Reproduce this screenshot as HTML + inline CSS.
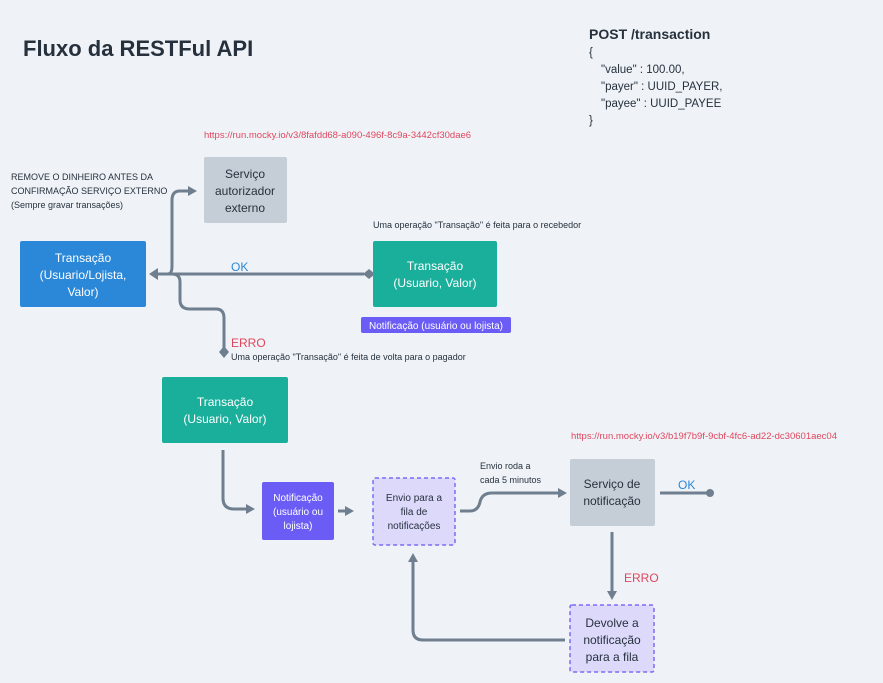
<!DOCTYPE html>
<html><head><meta charset="utf-8"><style>
html,body{margin:0;padding:0;background:#eff3f7;}
svg{display:block;font-family:"Liberation Sans",sans-serif;}
</style></head><body>
<svg width="883" height="683" viewBox="0 0 883 683" xmlns="http://www.w3.org/2000/svg">
<rect width="883" height="683" fill="#eff3f7"/>
<defs>
<marker id="ar" markerWidth="10" markerHeight="12" refX="6" refY="6" orient="auto" markerUnits="userSpaceOnUse"><path d="M0,1 L9,6 L0,11 z" fill="#6f7f8f"/></marker>
</defs>
<text x="23" y="56" font-size="22" font-weight="bold" fill="#26313d">Fluxo da RESTFul API</text>
<g fill="#26313d" font-size="11.5">
<text x="589" y="39" font-size="14" font-weight="bold">POST /transaction</text>
<text x="589" y="56">{</text>
<text x="601" y="73">"value" : 100.00,</text>
<text x="601" y="90">"payer" : UUID_PAYER,</text>
<text x="601" y="107">"payee" : UUID_PAYEE</text>
<text x="589" y="124">}</text>
</g>
<text x="204" y="138" font-size="9.5" fill="#e0465e">https://run.mocky.io/v3/8fafdd68-a090-496f-8c9a-3442cf30dae6</text>
<text x="571" y="439" font-size="9.5" fill="#e0465e">https://run.mocky.io/v3/b19f7b9f-9cbf-4fc6-ad22-dc30601aec04</text>
<g font-size="9" fill="#26313d">
<text x="11" y="180">REMOVE O DINHEIRO ANTES DA</text>
<text x="11" y="194">CONFIRMAÇÃO SERVIÇO EXTERNO</text>
<text x="11" y="208">(Sempre gravar transações)</text>
<text x="373" y="228">Uma operação "Transação" é feita para o recebedor</text>
<text x="231" y="360">Uma operação "Transação" é feita de volta para o pagador</text>
<text x="480" y="469">Envio roda a</text>
<text x="480" y="483">cada 5 minutos</text>
</g>
<g fill="none" stroke="#6f7f8f" stroke-width="3">
<path d="M155,274 L364,274"/>
<path d="M168,274 Q172,274 172,266 L172,200 Q172,191 180,191 L194,191" marker-end="url(#ar)"/>
<path d="M172,274 Q180,274 180,282 L180,300 Q180,309 190,309 L216,309 Q224,309 224,318 L224,350"/>
<path d="M223,450 L223,498 Q223,509 234,509 L252,509" marker-end="url(#ar)"/>
<path d="M338,511 L351,511" marker-end="url(#ar)"/>
<path d="M460,511 L470,511 Q478,511 480,502 Q482,493 492,493 L564,493" marker-end="url(#ar)"/>
<path d="M660,493 L709,493"/>
<path d="M612,532 L612,597" marker-end="url(#ar)"/>
<path d="M565,640 L423,640 Q413,640 413,630 L413,556" marker-end="url(#ar)"/>
</g>
<path d="M149,274 L158,268 L158,280 z" fill="#6f7f8f"/>
<path d="M363,274 L369,269 L375,274 L369,279 z" fill="#6f7f8f"/>
<path d="M224,346 L229,352 L224,358 L219,352 z" fill="#6f7f8f"/>
<circle cx="710" cy="493" r="4" fill="#6f7f8f"/>
<text x="231" y="271" font-size="12" fill="#2b88d8">OK</text>
<text x="678" y="489" font-size="12" fill="#2b88d8">OK</text>
<text x="231" y="347" font-size="12" fill="#e0465e">ERRO</text>
<text x="624" y="582" font-size="12" fill="#e0465e">ERRO</text>
<rect x="204" y="157" width="83" height="66" rx="2" fill="#c5ced6"/>
<g font-size="12" fill="#26313d" text-anchor="middle">
<text x="245" y="178">Serviço</text><text x="245" y="195">autorizador</text><text x="245" y="212">externo</text>
</g>
<rect x="20" y="241" width="126" height="66" rx="2" fill="#2b88d8"/>
<g font-size="12" fill="#fff" text-anchor="middle">
<text x="83" y="262">Transação</text><text x="83" y="279">(Usuario/Lojista,</text><text x="83" y="296">Valor)</text>
</g>
<rect x="373" y="241" width="124" height="66" rx="2" fill="#1aaf9a"/>
<g font-size="12" fill="#fff" text-anchor="middle"><text x="435" y="270">Transação</text><text x="435" y="287">(Usuario, Valor)</text></g>
<rect x="361" y="317" width="150" height="16" rx="2" fill="#6b5cf5"/>
<text x="436" y="329" font-size="10" fill="#fff" text-anchor="middle">Notificação (usuário ou lojista)</text>
<rect x="162" y="377" width="126" height="66" rx="2" fill="#1aaf9a"/>
<g font-size="12" fill="#fff" text-anchor="middle"><text x="225" y="406">Transação</text><text x="225" y="423">(Usuario, Valor)</text></g>
<rect x="262" y="482" width="72" height="58" rx="2" fill="#6b5cf5"/>
<g font-size="10" fill="#fff" text-anchor="middle"><text x="298" y="501">Notificação</text><text x="298" y="515">(usuário ou</text><text x="298" y="529">lojista)</text></g>
<rect x="373" y="478" width="82" height="67" rx="2" fill="#ddd9fb" stroke="#7b6cf5" stroke-width="1.5" stroke-dasharray="4,3"/>
<g font-size="10" fill="#26313d" text-anchor="middle"><text x="414" y="501">Envio para a</text><text x="414" y="515">fila de</text><text x="414" y="529">notificações</text></g>
<rect x="570" y="459" width="85" height="67" rx="2" fill="#c5ced6"/>
<g font-size="12" fill="#26313d" text-anchor="middle"><text x="612" y="488">Serviço de</text><text x="612" y="505">notificação</text></g>
<rect x="570" y="605" width="84" height="67" rx="2" fill="#ddd9fb" stroke="#7b6cf5" stroke-width="1.5" stroke-dasharray="4,3"/>
<g font-size="12" fill="#26313d" text-anchor="middle"><text x="612" y="627">Devolve a</text><text x="612" y="644">notificação</text><text x="612" y="661">para a fila</text></g>
</svg>
</body></html>
